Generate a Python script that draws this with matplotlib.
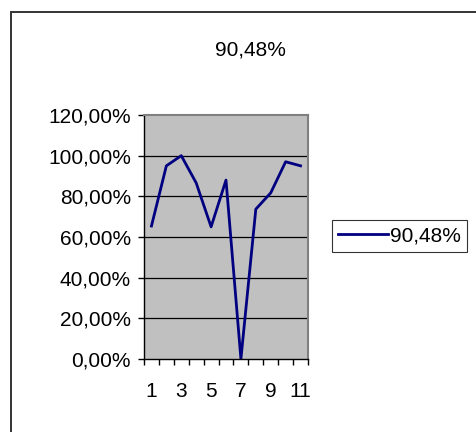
import numpy as np
import matplotlib.pyplot as plt
from matplotlib.patches import Rectangle
from matplotlib.ticker import FixedLocator, FuncFormatter

plt.rcParams['font.family'] = ['Liberation Sans', 'DejaVu Sans']

# values
categories = np.arange(1, 12)
values = [65.4, 95.0, 100.0, 86.6, 65.0, 88.0, 0.0, 73.7, 81.7, 97.0, 95.0]
series_name = '90,48%'
y_ticks = [0, 20, 40, 60, 80, 100, 120]

FS = 15
W, H = 476, 432
fig = plt.figure(figsize=(W / 100, H / 100), dpi=100)

# outer chart border (runs off the image on the right and bottom)
fig.patches.append(Rectangle((11 / W, -0.1), 1.2, 1 - 12 / H + 0.1,
                             transform=fig.transFigure, fill=False,
                             edgecolor='#333333', linewidth=1.4))

ax = fig.add_axes([144 / W, (H - 359) / H, 164 / W, 244 / H])
ax.set_facecolor('#c0c0c0')

ax.plot(categories, values, color='#000080', linewidth=2, label=series_name)

ax.set_xlim(0.5, 11.5)
ax.set_ylim(0, 120)

for y in y_ticks[1:-1]:
    ax.axhline(y, color='black', linewidth=0.9, zorder=1)

ax.set_yticks(y_ticks)
ax.yaxis.set_major_formatter(FuncFormatter(lambda v, p: f'{v:.2f}%'.replace('.', ',')))

ax.xaxis.set_major_locator(FixedLocator(np.arange(0.5, 12, 1)))
ax.xaxis.set_major_formatter(FuncFormatter(lambda v, p: ''))
ax.xaxis.set_minor_locator(FixedLocator(categories[::2]))
ax.xaxis.set_minor_formatter(FuncFormatter(lambda v, p: f'{int(round(v))}'))
ax.tick_params(axis='x', which='minor', length=0, pad=16.5, labelsize=FS)
ax.tick_params(axis='x', which='major', length=4.3, width=1, direction='out')
ax.tick_params(axis='y', length=4.3, width=1, direction='out', labelsize=FS, pad=5)

for side in ['top', 'right']:
    ax.spines[side].set_color('#808080')
    ax.spines[side].set_linewidth(1.5)
for side in ['left', 'bottom']:
    ax.spines[side].set_color('black')
    ax.spines[side].set_linewidth(1)

fig.text(250 / W, 1 - 50 / H, series_name, ha='center', va='center', fontsize=FS)

leg = ax.legend(loc='center left', bbox_to_anchor=(332 / W, 1 - 236 / H),
                bbox_transform=fig.transFigure, fontsize=FS, frameon=True,
                fancybox=False, handlelength=2.4, handletextpad=0.1,
                borderpad=0.3, borderaxespad=0)
leg.get_frame().set_edgecolor('black')
leg.get_frame().set_linewidth(0.8)

fig.savefig('out.png', dpi=100)
